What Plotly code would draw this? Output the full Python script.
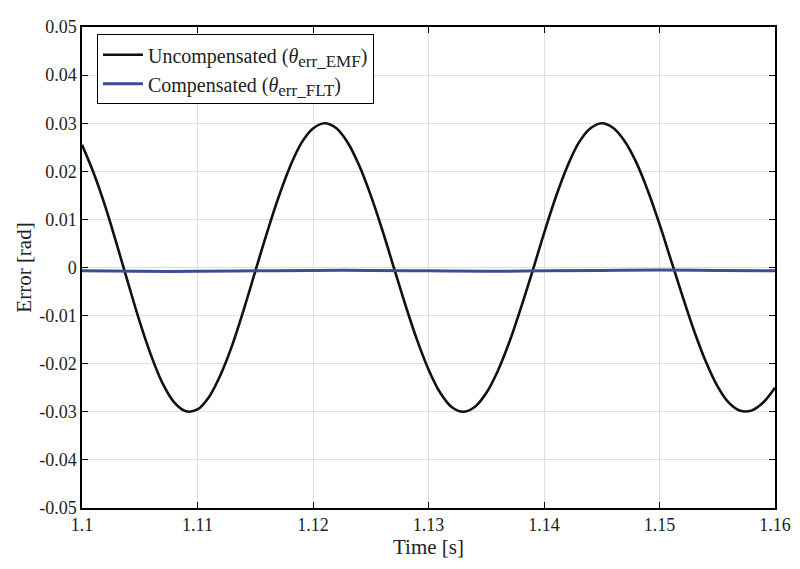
import plotly.graph_objects as go

# Time axis (s), 1 ms steps
time_s = [round(1.100 + 0.001 * i, 3) for i in range(61)]

# Uncompensated error (rad)
uncomp = [
    0.0255, 0.0197, 0.0128, 0.0049, -0.0033, -0.0113, -0.0184, -0.0242, -0.0281, -0.0299,
    -0.0295, -0.0269, -0.0223, -0.0162, -0.0088, -0.0008, 0.0071, 0.0145, 0.0209, 0.0259,
    0.0289, 0.0300, 0.0290, 0.0260, 0.0212, 0.0150, 0.0078, 0.0000, -0.0078, -0.0150,
    -0.0212, -0.0260, -0.0290, -0.0300, -0.0290, -0.0261, -0.0215, -0.0155, -0.0084, -0.0008,
    0.0071, 0.0145, 0.0209, 0.0259, 0.0289, 0.0300, 0.0290, 0.0262, 0.0218, 0.0159,
    0.0090, 0.0015, -0.0060, -0.0132, -0.0195, -0.0246, -0.0281, -0.0298, -0.0297, -0.0280,
    -0.0250,
]

# Compensated error (rad), 5 ms steps
comp_time = [1.100, 1.105, 1.110, 1.115, 1.120, 1.125, 1.130, 1.135, 1.140, 1.145, 1.150, 1.155, 1.160]
comp = [-0.0007, -0.0008, -0.0008, -0.0007, -0.0006, -0.0006, -0.0007, -0.0008, -0.0007, -0.0006, -0.0005, -0.0006, -0.0007]

x_ticks = [1.10, 1.11, 1.12, 1.13, 1.14, 1.15, 1.16]
x_labels = ["1.1", "1.11", "1.12", "1.13", "1.14", "1.15", "1.16"]
y_ticks = [0.05, 0.04, 0.03, 0.02, 0.01, 0.0, -0.01, -0.02, -0.03, -0.04, -0.05]
y_labels = ["0.05", "0.04", "0.03", "0.02", "0.01", "0", "-0.01", "-0.02", "-0.03", "-0.04", "-0.05"]

FONT = "Liberation Serif"
SUB = '<sub><span style="font-size:17px">{}</span></sub>'

fig = go.Figure()
fig.add_trace(go.Scatter(
    x=time_s, y=uncomp, mode="lines", line=dict(color="#111111", width=2.6, shape="spline"),
    name="Uncompensated (<i>θ</i>" + SUB.format("err_EMF") + ")",
))
fig.add_trace(go.Scatter(
    x=comp_time, y=comp, mode="lines", line=dict(color="#3b4e8e", width=3, shape="spline"),
    name="Compensated (<i>θ</i>" + SUB.format("err_FLT") + ")",
))

axis_common = dict(
    showline=True, linecolor="black", linewidth=1.5, mirror="ticks",
    ticks="inside", ticklen=6, tickwidth=1.2, tickcolor="black",
    showgrid=True, gridcolor="#dedede", gridwidth=1, zeroline=False,
    tickfont=dict(family=FONT, size=18, color="#222222"),
)

fig.update_layout(
    width=792, height=553,
    margin=dict(l=74, r=24, t=9, b=52),
    paper_bgcolor="white", plot_bgcolor="white",
    font=dict(family=FONT, size=18, color="#222222"),
    showlegend=True,
    legend=dict(
        x=0.0216, y=0.985, xanchor="left", yanchor="top",
        bgcolor="white", bordercolor="black", borderwidth=1,
        font=dict(family=FONT, size=20, color="#222222"),
        tracegroupgap=0, itemwidth=40,
    ),
    xaxis=dict(
        range=[1.1, 1.16], tickvals=x_ticks, ticktext=x_labels,
        title=dict(text="Time [s]", font=dict(family=FONT, size=21), standoff=2),
        **axis_common,
    ),
    yaxis=dict(
        range=[-0.05, 0.05], tickvals=y_ticks, ticktext=y_labels,
        title=dict(text="Error [rad]", font=dict(family=FONT, size=21), standoff=2),
        **axis_common,
    ),
)

fig.write_html("out.html")
